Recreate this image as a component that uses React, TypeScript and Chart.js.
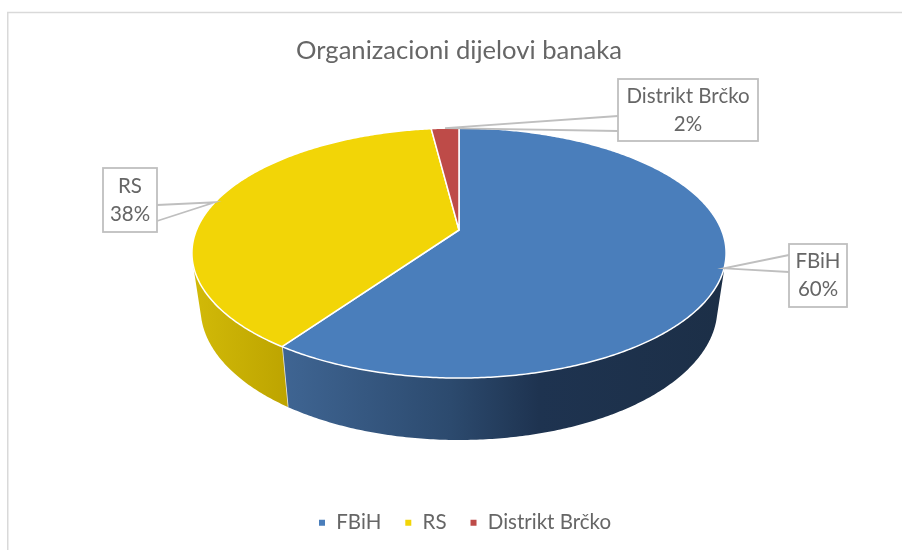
import React, { useEffect, useRef } from "react";
import { Chart, registerables } from "chart.js";

Chart.register(...registerables);

const categories = ["FBiH", "RS", "Distrikt Brčko"];
const values = [59.7, 38.3, 2];
const colors = ["#4a7ebb", "#f2d507", "#be4b48"];
const titleText = "Organizacioni dijelovi banaka";

const FONT = "Lato, 'Open Sans', sans-serif";
const TEXT = "#666666";
const LINE = "#bfbfbf";

// Perspective of the pie, applied to the angles of the library's own arc elements.
const TILT = 0.184;
const TOP_FACE = { rx: 262.5, ry: 120.8, y: 230 };
const BOTTOM_FACE = { rx: 254, ry: 127.3, y: 284 };
const WALL_OVERLAP = 0.25;

const callouts = [
  { box: [789, 244, 58, 63], rootA: [789, 255], rootB: [789, 272] },
  { box: [103, 168, 54, 64], rootA: [157, 205], rootB: [157, 221] },
  { box: [618, 79, 140, 62], rootA: [618, 116], rootB: [618, 131] },
];

const wallStops = [
  [[0, "#1c2f47"], [0.42, "#1e3350"], [0.62, "#2c4a6e"], [1, "#3f6593"]],
  [[0, "#bda400"], [1, "#d2ba08"]],
  [[0, "#8f3735"], [1, "#8f3735"]],
];

type Face = { rx: number; ry: number; y: number };

function project(cx: number, face: Face, a: number) {
  const u = Math.cos(a);
  const v = Math.sin(a);
  const s = 1 / (1 - TILT * v);
  return [cx + face.rx * u * s, face.y + face.ry * v * s];
}

function arcPoints(cx: number, face: Face, a0: number, a1: number) {
  const n = Math.max(2, Math.ceil(Math.abs(a1 - a0) / 0.01));
  const pts: number[][] = [];
  for (let i = 0; i <= n; i++) pts.push(project(cx, face, a0 + ((a1 - a0) * i) / n));
  return pts;
}

const pie3d = {
  id: "pie3d",
  beforeDraw(chart: any) {
    const { ctx, width, height } = chart;
    ctx.save();
    ctx.fillStyle = "#ffffff";
    ctx.fillRect(0, 0, width, height);
    ctx.strokeStyle = "#d9d9d9";
    ctx.lineWidth = 1.5;
    ctx.beginPath();
    ctx.moveTo(7.75, height);
    ctx.lineTo(7.75, 12.5);
    ctx.lineTo(width, 12.5);
    ctx.stroke();
    ctx.restore();
  },
  afterLayout(chart: any) {
    chart.legend.left += 5.5;
    chart.legend.right += 5.5;
    chart.legend.top -= 7;
    chart.legend.bottom -= 7;
  },
  beforeDatasetDraw(chart: any, args: any) {
    const { ctx } = chart;
    const arcs = args.meta.data;
    const cx = arcs[0].x;
    ctx.save();
    ctx.lineJoin = "round";

    // Visible wall: the front half of the rim, slice by slice.
    arcs.forEach((arc: any, i: number) => {
      const lo = Math.max(arc.startAngle, WALL_OVERLAP);
      const hi = Math.min(arc.endAngle, Math.PI - WALL_OVERLAP);
      if (hi <= lo) return;
      const top = arcPoints(cx, TOP_FACE, lo, hi);
      const bottom = arcPoints(cx, BOTTOM_FACE, lo, hi).reverse();
      const xs = top.concat(bottom).map((p) => p[0]);
      const g = ctx.createLinearGradient(Math.max(...xs), 0, Math.min(...xs), 0);
      wallStops[i].forEach(([at, c]) => g.addColorStop(at as number, c as string));
      ctx.beginPath();
      top.concat(bottom).forEach((p, k) => (k ? ctx.lineTo(p[0], p[1]) : ctx.moveTo(p[0], p[1])));
      ctx.closePath();
      ctx.fillStyle = g;
      ctx.fill();
      // seam between two slices on the wall
      if (arc.endAngle < Math.PI && arc.endAngle > 0) {
        const a = project(cx, TOP_FACE, arc.endAngle);
        const b = project(cx, BOTTOM_FACE, arc.endAngle);
        ctx.beginPath();
        ctx.moveTo(a[0], a[1]);
        ctx.lineTo(b[0], b[1]);
        ctx.strokeStyle = "#e8e8e8";
        ctx.lineWidth = 1.5;
        ctx.stroke();
      }
    });

    // Top face.
    arcs.forEach((arc: any, i: number) => {
      const pts = arcPoints(cx, TOP_FACE, arc.startAngle, arc.endAngle);
      ctx.beginPath();
      ctx.moveTo(cx, TOP_FACE.y);
      pts.forEach((p) => ctx.lineTo(p[0], p[1]));
      ctx.closePath();
      ctx.fillStyle = colors[i];
      ctx.fill();
      ctx.strokeStyle = "#ffffff";
      ctx.lineWidth = 1.5;
      ctx.stroke();
    });
    ctx.restore();
    return false;
  },
  afterDraw(chart: any) {
    const { ctx } = chart;
    const arcs = chart.getDatasetMeta(0).data;
    const total = values.reduce((a, b) => a + b, 0);
    ctx.save();
    arcs.forEach((arc: any, i: number) => {
      const c = callouts[i];
      const [x, y, w, h] = c.box;
      const tip = project(arc.x, TOP_FACE, (arc.startAngle + arc.endAngle) / 2);
      ctx.strokeStyle = LINE;
      ctx.lineWidth = 1.8;
      ctx.beginPath();
      ctx.moveTo(c.rootA[0], c.rootA[1]);
      ctx.lineTo(tip[0], tip[1]);
      ctx.lineTo(c.rootB[0], c.rootB[1]);
      ctx.stroke();
      ctx.fillStyle = "#ffffff";
      ctx.fillRect(x, y, w, h);
      ctx.strokeRect(x, y, w, h);
      ctx.fillStyle = TEXT;
      ctx.font = `20.5px ${FONT}`;
      ctx.textAlign = "center";
      ctx.textBaseline = "middle";
      ctx.fillText(categories[i], x + w / 2, y + h / 2 - 14);
      ctx.fillText(`${Math.round((values[i] / total) * 100)}%`, x + w / 2, y + h / 2 + 14);
    });
    ctx.restore();
  },
};

export default function App() {
  const ref = useRef<HTMLCanvasElement | null>(null);

  useEffect(() => {
    const chart = new Chart(ref.current as HTMLCanvasElement, {
      type: "pie",
      data: {
        labels: categories,
        datasets: [{ data: values, backgroundColor: colors, borderColor: "#ffffff" }],
      },
      options: {
        animation: false,
        responsive: false,
        layout: { padding: { left: 16 } },
        plugins: {
          tooltip: { enabled: false },
          title: {
            display: true,
            text: titleText,
            color: TEXT,
            font: { family: FONT, size: 25.6, weight: "normal" },
            padding: { top: 35, bottom: 11 },
          },
          legend: {
            position: "bottom",
            labels: {
              boxWidth: 8,
              boxHeight: 8,
              padding: 23,
              color: TEXT,
              font: { family: FONT, size: 20.5 },
            },
          },
        },
      },
      plugins: [pie3d],
    } as any);
    return () => chart.destroy();
  }, []);

  return (
    <div style={{ position: "fixed", left: 0, top: 0, width: 902, height: 550, background: "#fff" }}>
      <canvas ref={ref} width={902} height={550} style={{ display: "block" }} />
    </div>
  );
}
